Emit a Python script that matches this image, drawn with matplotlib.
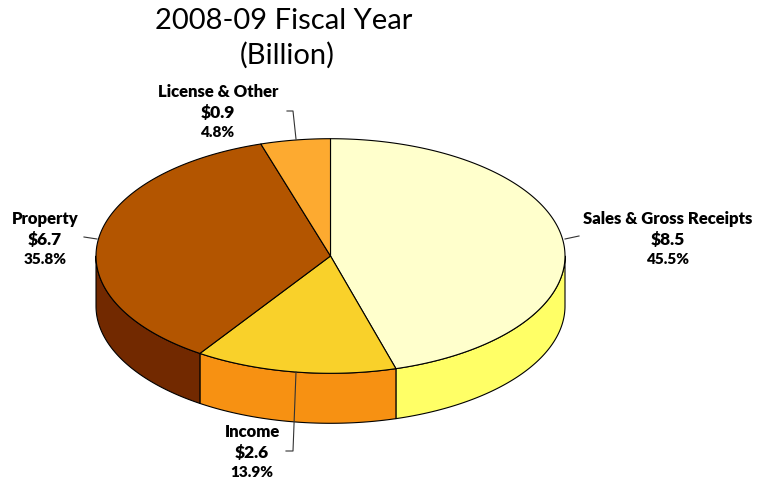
import numpy as np
import matplotlib
matplotlib.use("Agg")
import matplotlib.pyplot as plt
from matplotlib.patches import Polygon

# Revenue sources, fiscal year 2008-09
categories = ["Sales & Gross Receipts", "Income", "Property", "License & Other"]
amounts = [8.5, 2.6, 6.7, 0.9]          # billions of dollars
shares = [45.5, 13.9, 35.8, 4.8]        # percent of total

top_colors = ["#FFFFCC", "#F9D12A", "#B35500", "#FDAA30"]
side_colors = ["#FFFF66", "#F79112", "#722900", "#E08A10"]

W, H = 757, 481
fig = plt.figure(figsize=(W / 100, H / 100), dpi=100)
ax = fig.add_axes([0, 0, 1, 1])
ax.set_xlim(0, W)
ax.set_ylim(H, 0)
ax.axis("off")

# Ellipse geometry of the tilted pie (pixel space)
cx, cy = 330.5, 257.0
rx, ry = 234.5, 117.3
depth = 50.0


def pt(theta_deg, dz=0.0):
    t = np.radians(theta_deg)
    return cx + rx * np.cos(t), cy - ry * np.sin(t) + dz


# Slice angles: start at 12 o'clock, run clockwise
bounds = [90.0]
for s in shares:
    bounds.append(bounds[-1] - s / 100.0 * 360.0)

lw = 0.8

# Side walls (only the front half, theta in [-180, 0])
for i in range(len(shares)):
    a0, a1 = bounds[i], bounds[i + 1]   # a0 > a1
    lo, hi = max(a1, -180.0), min(a0, 0.0)
    if hi <= lo:
        continue
    th = np.linspace(hi, lo, 120)
    upper = [pt(t) for t in th]
    lower = [pt(t, depth) for t in th[::-1]]
    ax.add_patch(Polygon(upper + lower, closed=True, facecolor=side_colors[i],
                         edgecolor="black", linewidth=lw, joinstyle="round",
                         zorder=1))

# Top faces
for i in range(len(shares)):
    a0, a1 = bounds[i], bounds[i + 1]
    th = np.linspace(a0, a1, 200)
    verts = [(cx, cy)] + [pt(t) for t in th]
    ax.add_patch(Polygon(verts, closed=True, facecolor=top_colors[i],
                         edgecolor="black", linewidth=lw, joinstyle="round",
                         zorder=2))

# Title
title_font = "Lato"
ax.text(284, 21, "2008-09 Fiscal Year", ha="center", va="center",
        fontsize=21, family=title_font, color="black")
ax.text(287, 55, "(Billion)", ha="center", va="center",
        fontsize=21, family=title_font, color="black")

# Data labels with leader lines
label_pos = [(668, 240), (252, 453), (45, 240), (218, 113)]
leaders = [
    [(565, 240), (579, 237)],
    [(296, 373), (293, 452), (286, 452)],
    [(97, 240), (84, 238)],
    [(296, 140), (293, 112), (287, 112)],
]
for i, name in enumerate(categories):
    x, y = label_pos[i]
    ax.text(x, y - 21, name, ha="center", va="center", fontsize=12,
            fontweight="heavy", family="Lato")
    ax.text(x, y, f"${amounts[i]:.1f}", ha="center", va="center",
            fontsize=12.5, fontweight="heavy", family="Lato")
    ax.text(x, y + 20, f"{shares[i]:.1f}%", ha="center", va="center",
            fontsize=11, fontweight="heavy", family="Lato")
    xs, ys = zip(*leaders[i])
    ax.plot(xs, ys, color="#333333", linewidth=0.8, zorder=3)

fig.savefig("out.png", dpi=100)
